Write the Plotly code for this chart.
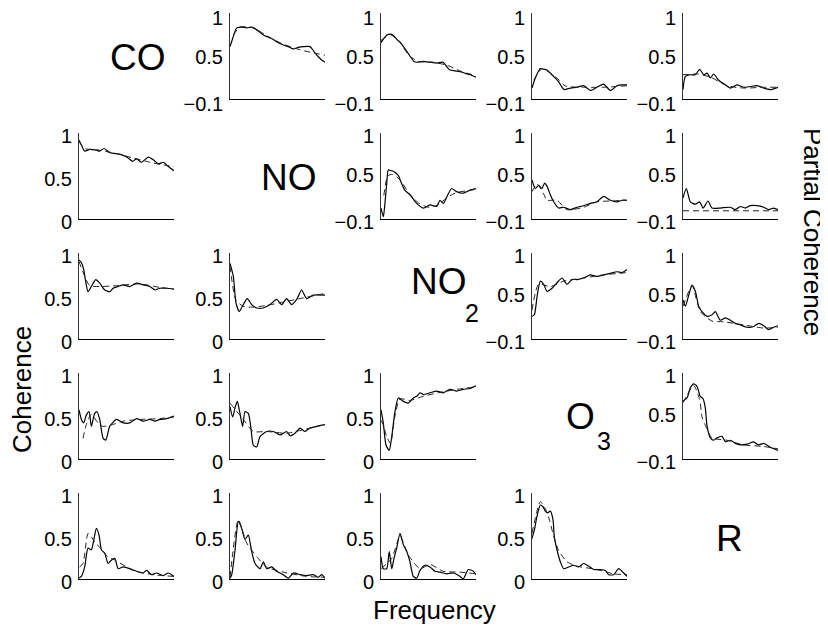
import plotly.graph_objects as go

W, H = 828, 627
# the page places the figure 8 px right/down (body margin); positions below are
# screen pixels and are converted to figure pixels with this offset
OFF = 8

# ---------------- labels ----------------
variables = ["CO", "NO", "NO2", "O3", "R"]
x_title = "Frequency"
y_title_left = "Coherence"
y_title_right = "Partial Coherence"
upper_ticks = [-0.1, 0.5, 1]
upper_ticktext = ["\u22120.1", "0.5", "1"]
lower_ticks = [0, 0.5, 1]
lower_ticktext = ["0", "0.5", "1"]

# ---------------- data (frequency normalised 0..1) ----------------
# row 1 (CO) – partial coherence
p12_f = [0, .035, .07, .123, .175, .228, .263, .351, .404, .456, .509, .561, .614, .667, .719, .772, .842, .895, .930, .965, 1.0]
p12_v = [0.57, 0.70, 0.81, 0.82, 0.81, 0.82, 0.80, 0.72, 0.69, 0.66, 0.62, 0.59, 0.57, 0.54, 0.56, 0.57, 0.57, 0.49, 0.44, 0.40, 0.37]
p12_df = [.035, .105, .246, .386, .561, .737, .877, 1.0]
p12_dv = [0.72, 0.82, 0.81, 0.71, 0.60, 0.53, 0.49, 0.46]

p13_f = [0, .032, .063, .095, .126, .168, .2, .253, .305, .347, .379, .442, .516, .589, .653, .695, .726, .779, .832, .884, .937, 1]
p13_v = [0.62, 0.68, 0.72, 0.73, 0.72, 0.66, 0.63, 0.54, 0.45, 0.38, 0.37, 0.38, 0.37, 0.36, 0.37, 0.31, 0.27, 0.26, 0.25, 0.23, 0.21, 0.18]
p13_df = [0, .1, .2, .3, .4, .55, .7, .85, 1]
p13_dv = [0.65, 0.72, 0.62, 0.45, 0.38, 0.37, 0.33, 0.25, 0.20]

p14_f = [0, .035, .088, .123, .158, .193, .228, .281, .316, .340, .404, .474, .544, .614, .684, .754, .825, .895, .947, 1]
p14_v = [0.04, 0.17, 0.29, 0.28, 0.27, 0.23, 0.19, 0.12, 0.05, 0.02, 0.04, 0.05, 0.07, 0.01, 0.05, 0.09, 0.01, 0.07, 0.08, 0.08]
p14_df = [.018, .105, .193, .263, .333, .368, .544, .754, 1]
p14_dv = [0.14, 0.29, 0.23, 0.17, 0.08, 0.06, 0.05, 0.05, 0.07]

p15_f = [0, .025, .077, .130, .175, .218, .253, .288, .323, .375, .446, .498, .568, .639, .709, .779, .849, .919, 1]
p15_v = [0.02, 0.19, 0.21, 0.21, 0.28, 0.21, 0.23, 0.17, 0.22, 0.14, 0.08, 0.04, 0.08, 0.05, 0.06, 0.07, 0.04, 0.02, 0.05]
p15_df = [0, .147, .288, .463, .639, .849, 1]
p15_dv = [0.21, 0.22, 0.18, 0.07, 0.04, 0.05, 0.05]

# row 2 (NO)
p21_f = [0, .025, .060, .113, .183, .218, .264, .324, .394, .465, .518, .563, .606, .658, .729, .782, .835, .887, .940, 1]
p21_v = [0.92, 0.86, 0.79, 0.81, 0.80, 0.79, 0.82, 0.77, 0.76, 0.74, 0.71, 0.67, 0.70, 0.66, 0.72, 0.69, 0.64, 0.66, 0.61, 0.56]
p21_df = [0, .06, .218, .394, .570, .746, .887, 1]
p21_dv = [0.90, 0.82, 0.80, 0.76, 0.71, 0.66, 0.63, 0.61]

p23_f = [0, .025, .04, .06, .077, .10, .13, .18, .215, .25, .305, .375, .446, .516, .586, .621, .656, .70, .744, .796, .866, .937, 1]
p23_v = [0.04, -0.07, 0.08, 0.35, 0.53, 0.52, 0.51, 0.46, 0.36, 0.27, 0.21, 0.10, 0.04, 0.08, 0.06, 0.14, 0.10, 0.20, 0.29, 0.25, 0.23, 0.27, 0.29]
p23_df = [.03, .07, .12, .2, .3, .4, .5, .6, .7, .8, .9, 1]
p23_dv = [0.20, 0.45, 0.47, 0.40, 0.22, 0.10, 0.05, 0.08, 0.18, 0.24, 0.26, 0.28]

p24_f = [0, .035, .070, .105, .133, .158, .193, .228, .281, .333, .404, .474, .544, .614, .684, .754, .825, .895, .947, 1]
p24_v = [0.40, 0.29, 0.33, 0.29, 0.36, 0.32, 0.21, 0.12, 0.04, 0.05, 0.02, 0.05, 0.07, 0.10, 0.12, 0.19, 0.14, 0.12, 0.14, 0.14]
p24_df = [0, .053, .123, .158, .263, .368, .544, .684, .825, 1]
p24_dv = [0.25, 0.35, 0.22, 0.14, 0.14, 0.02, 0.05, 0.12, 0.13, 0.14]

p25_f = [0, .035, .077, .130, .175, .211, .263, .305, .393, .498, .551, .604, .656, .709, .779, .849, .902, .954, 1]
p25_v = [0.17, 0.29, 0.12, 0.09, 0.12, 0.04, 0.13, 0.04, 0.04, 0.05, 0.02, 0.06, 0.04, 0.07, 0.07, 0.05, 0.02, 0.04, 0.02]
p25_df = [0, 1]
p25_dv = [0.005, 0.005]

# row 3 (NO2)
p31_f = [0, .025, .049, .070, .095, .130, .176, .218, .271, .324, .359, .412, .465, .535, .606, .676, .746, .799, .852, .923, 1]
p31_v = [0.92, 0.89, 0.81, 0.67, 0.55, 0.61, 0.69, 0.65, 0.57, 0.55, 0.59, 0.61, 0.63, 0.61, 0.65, 0.63, 0.61, 0.57, 0.59, 0.59, 0.58]
p31_df = [0, .060, .113, .218, .394, .641, .852, 1]
p31_dv = [0.90, 0.73, 0.62, 0.61, 0.62, 0.64, 0.60, 0.58]

p32_f = [0, .035, .063, .098, .140, .182, .228, .281, .351, .421, .491, .544, .596, .649, .702, .754, .807, .877, 1]
p32_v = [0.88, 0.73, 0.42, 0.32, 0.40, 0.47, 0.40, 0.36, 0.36, 0.40, 0.46, 0.40, 0.47, 0.40, 0.46, 0.57, 0.47, 0.51, 0.51]
p32_df = [0, .063, .140, .246, .386, .561, .737, 1]
p32_dv = [0.85, 0.45, 0.38, 0.37, 0.39, 0.43, 0.47, 0.53]

p34_f = [0, .025, .053, .088, .123, .158, .211, .263, .316, .368, .421, .474, .544, .614, .684, .754, .825, .895, .947, 1]
p34_v = [0.19, 0.21, 0.44, 0.64, 0.60, 0.51, 0.55, 0.62, 0.68, 0.60, 0.66, 0.66, 0.68, 0.72, 0.70, 0.72, 0.74, 0.76, 0.75, 0.79]
p34_df = [0, .070, .193, .333, .544, .754, 1]
p34_dv = [0.27, 0.60, 0.57, 0.64, 0.68, 0.72, 0.75]

p35_f = [0, .025, .060, .095, .130, .165, .200, .253, .305, .340, .393, .446, .498, .551, .604, .674, .744, .796, .849, .902, .954, 1]
p35_v = [0.40, 0.32, 0.46, 0.59, 0.51, 0.32, 0.25, 0.19, 0.21, 0.25, 0.14, 0.17, 0.14, 0.10, 0.08, 0.05, 0.06, 0.10, 0.07, 0.02, 0.05, 0.07]
p35_df = [0, .095, .182, .305, .428, .639, .849, 1]
p35_dv = [0.32, 0.58, 0.25, 0.13, 0.12, 0.08, 0.04, 0.05]

# row 4 (O3)
p41_f = [0, .025, .049, .077, .106, .130, .165, .190, .218, .254, .282, .324, .394, .465, .535, .606, .676, .746, .799, .852, .923, 1]
p41_v = [0.57, 0.46, 0.42, 0.51, 0.55, 0.38, 0.53, 0.55, 0.46, 0.24, 0.22, 0.38, 0.46, 0.42, 0.42, 0.47, 0.44, 0.46, 0.44, 0.46, 0.47, 0.50]
p41_df = [.042, .077, .13, .2, .25, .324, .465, .641, .852, 1]
p41_dv = [0.24, 0.40, 0.52, 0.42, 0.38, 0.39, 0.44, 0.46, 0.47, 0.49]

p42_f = [0, .028, .056, .077, .105, .133, .158, .193, .218, .246, .281, .316, .386, .456, .526, .596, .632, .684, .737, .789, .842, .912, 1]
p42_v = [0.61, 0.49, 0.61, 0.67, 0.53, 0.38, 0.55, 0.53, 0.38, 0.16, 0.14, 0.26, 0.32, 0.32, 0.28, 0.32, 0.27, 0.30, 0.36, 0.32, 0.36, 0.38, 0.40]
p42_df = [0, .140, .246, .386, .596, .807, 1]
p42_dv = [0.65, 0.46, 0.32, 0.32, 0.30, 0.35, 0.40]

p43_f = [0, .024, .053, .087, .113, .147, .182, .235, .287, .340, .376, .411, .445, .516, .586, .656, .726, .797, .867, .937, 1]
p43_v = [0.57, 0.42, 0.16, 0.10, 0.26, 0.55, 0.71, 0.67, 0.65, 0.71, 0.73, 0.77, 0.75, 0.77, 0.79, 0.77, 0.81, 0.79, 0.81, 0.82, 0.85]
p43_df = [0, .024, .06, .10, .147, .2, .3, .45, .6, .8, 1]
p43_dv = [0.45, 0.40, 0.26, 0.18, 0.50, 0.70, 0.68, 0.73, 0.77, 0.81, 0.84]

p45_f = [0, .042, .077, .112, .147, .182, .211, .235, .253, .288, .323, .358, .411, .446, .498, .551, .604, .674, .744, .796, .849, .919, 1]
p45_v = [0.64, 0.68, 0.81, 0.86, 0.83, 0.70, 0.67, 0.55, 0.32, 0.17, 0.14, 0.17, 0.19, 0.12, 0.14, 0.10, 0.08, 0.09, 0.12, 0.08, 0.10, 0.05, 0.01]
p45_df = [0, .112, .175, .2, .235, .305, .463, .639, .849, 1]
p45_dv = [0.62, 0.84, 0.66, 0.44, 0.33, 0.17, 0.14, 0.08, 0.06, 0.03]

# row 5 (R)
p51_f = [0, .025, .060, .095, .130, .155, .183, .211, .236, .271, .306, .342, .377, .412, .465, .535, .606, .676, .711, .764, .817, .887, .940, 1]
p51_v = [0.01, 0.03, 0.14, 0.36, 0.34, 0.45, 0.59, 0.51, 0.34, 0.30, 0.18, 0.22, 0.24, 0.12, 0.14, 0.12, 0.09, 0.07, 0.10, 0.05, 0.07, 0.04, 0.07, 0.03]
p51_df = [.007, .042, .095, .13, .17, .236, .3, .377, .57, .782, 1]
p51_dv = [0.14, 0.18, 0.53, 0.49, 0.42, 0.35, 0.26, 0.22, 0.10, 0.05, 0.03]

p52_f = [0, .018, .053, .088, .123, .158, .193, .228, .263, .316, .351, .386, .439, .491, .561, .614, .667, .737, .807, .877, .930, .965, 1]
p52_v = [0.01, 0.05, 0.34, 0.67, 0.59, 0.46, 0.51, 0.32, 0.18, 0.12, 0.20, 0.12, 0.14, 0.09, 0.05, 0.01, 0.07, 0.05, 0.04, 0.05, 0.02, 0.05, 0.01]
p52_df = [0, .088, .175, .281, .386, .561, .807, 1]
p52_dv = [0.02, 0.69, 0.42, 0.26, 0.14, 0.08, 0.03, 0.02]

p53_f = [0, .024, .060, .087, .113, .137, .165, .2, .235, .271, .305, .340, .376, .411, .463, .516, .568, .621, .692, .761, .832, .866, .919, .972, 1]
p53_v = [0.26, 0.12, 0.12, 0.32, 0.12, 0.24, 0.36, 0.53, 0.40, 0.32, 0.20, 0.03, 0.01, 0.10, 0.16, 0.14, 0.09, 0.08, 0.06, 0.07, 0.03, 0.0, 0.11, 0.09, 0.05]
p53_df = [0, .113, .2, .271, .305, .411, .516, .653, .832, 1]
p53_dv = [0.12, 0.24, 0.50, 0.32, 0.25, 0.12, 0.17, 0.09, 0.08, 0.06]

p54_f = [0, .025, .053, .088, .116, .140, .165, .193, .221, .235, .263, .298, .333, .386, .439, .491, .544, .596, .649, .719, .772, .807, .860, .912, .965, 1]
p54_v = [0.47, 0.57, 0.73, 0.86, 0.84, 0.79, 0.77, 0.79, 0.69, 0.49, 0.34, 0.20, 0.12, 0.14, 0.16, 0.14, 0.18, 0.15, 0.11, 0.11, 0.10, 0.05, 0.05, 0.12, 0.07, 0.03]
p54_df = [0, .088, .140, .175, .228, .281, .368, .474, .684, .860, 1]
p54_dv = [0.53, 0.90, 0.82, 0.72, 0.50, 0.33, 0.20, 0.15, 0.11, 0.06, 0.05]

panels = {
    (1, 2): (p12_f, p12_v, p12_df, p12_dv), (1, 3): (p13_f, p13_v, p13_df, p13_dv),
    (1, 4): (p14_f, p14_v, p14_df, p14_dv), (1, 5): (p15_f, p15_v, p15_df, p15_dv),
    (2, 1): (p21_f, p21_v, p21_df, p21_dv), (2, 3): (p23_f, p23_v, p23_df, p23_dv),
    (2, 4): (p24_f, p24_v, p24_df, p24_dv), (2, 5): (p25_f, p25_v, p25_df, p25_dv),
    (3, 1): (p31_f, p31_v, p31_df, p31_dv), (3, 2): (p32_f, p32_v, p32_df, p32_dv),
    (3, 4): (p34_f, p34_v, p34_df, p34_dv), (3, 5): (p35_f, p35_v, p35_df, p35_dv),
    (4, 1): (p41_f, p41_v, p41_df, p41_dv), (4, 2): (p42_f, p42_v, p42_df, p42_dv),
    (4, 3): (p43_f, p43_v, p43_df, p43_dv), (4, 5): (p45_f, p45_v, p45_df, p45_dv),
    (5, 1): (p51_f, p51_v, p51_df, p51_dv), (5, 2): (p52_f, p52_v, p52_df, p52_dv),
    (5, 3): (p53_f, p53_v, p53_df, p53_dv), (5, 4): (p54_f, p54_v, p54_df, p54_dv),
}

# ---------------- layout geometry (screen pixels) ----------------
col_left = [79, 230, 381, 532, 683]
row_top = [13, 133, 253, 373, 493]
ax_w, ax_h = 95, 86
FONT = "Liberation Sans, Arial, Helvetica, sans-serif"

def fx(x):
    return (x - OFF) / W

def fy(y):
    return 1 - (y - OFF) / H

fig = go.Figure()
layout = dict(
    template="none",
    width=W, height=H, margin=dict(l=0, r=0, t=0, b=0, pad=0, autoexpand=False),
    paper_bgcolor="white", plot_bgcolor="white", showlegend=False,
    font=dict(family=FONT, color="black"),
)

idx = 0
for (r, c), (f, v, df, dv) in panels.items():
    idx += 1
    xa = "x" if idx == 1 else f"x{idx}"
    ya = "y" if idx == 1 else f"y{idx}"
    x0 = col_left[c - 1]
    y0 = row_top[r - 1]
    upper = c > r
    layout["xaxis" if idx == 1 else f"xaxis{idx}"] = dict(
        domain=[fx(x0), fx(x0 + ax_w)], range=[0, 1], anchor=ya,
        showline=True, linecolor="black", linewidth=1, showgrid=False,
        zeroline=False, ticks="", showticklabels=False, fixedrange=True,
        automargin=False,
    )
    layout["yaxis" if idx == 1 else f"yaxis{idx}"] = dict(
        domain=[fy(y0 + ax_h), fy(y0)],
        range=[-0.1, 1] if upper else [0, 1], anchor=xa,
        showline=True, linecolor="#333333", linewidth=1, showgrid=False,
        zeroline=False, ticks="",
        tickvals=upper_ticks if upper else lower_ticks,
        ticktext=upper_ticktext if upper else lower_ticktext,
        tickfont=dict(size=20, family=FONT, color="black"),
        ticklabelstandoff=2, ticklabelshift=5 if r == 1 else 3,
        ticklabeloverflow="allow", fixedrange=True, automargin=False,
    )
    fig.add_trace(go.Scatter(x=f, y=v, mode="lines", xaxis=xa, yaxis=ya,
                             line=dict(color="black", width=1.2, shape="spline", smoothing=0.6)))
    fig.add_trace(go.Scatter(x=df, y=dv, mode="lines", xaxis=xa, yaxis=ya,
                             line=dict(color="#222222", width=1, dash="6px,4px",
                                       shape="spline", smoothing=0.6)))

annots = []
def add_text(text, x, y, size, angle=0):
    annots.append(dict(text=text, x=fx(x), y=fy(y), xref="paper", yref="paper",
                       xanchor="center", yanchor="middle", showarrow=False,
                       textangle=angle, font=dict(size=size, family=FONT, color="black")))

# diagonal variable names
add_text("CO", 137.5, 57.5, 37)
add_text("NO", 288.5, 177.5, 37)
add_text("NO", 438.5, 281.5, 37)
add_text("2", 471.5, 312.5, 25)
add_text("O", 580, 416.5, 37)
add_text("3", 603.5, 441, 25)
add_text("R", 729, 538.5, 37)
# axis titles
add_text(x_title, 435, 610, 26)
add_text(y_title_left, 22, 390, 26, -90)
add_text(y_title_right, 813, 232, 26, 90)

layout["annotations"] = annots
fig.update_layout(**layout)
fig.write_html("out.html")
